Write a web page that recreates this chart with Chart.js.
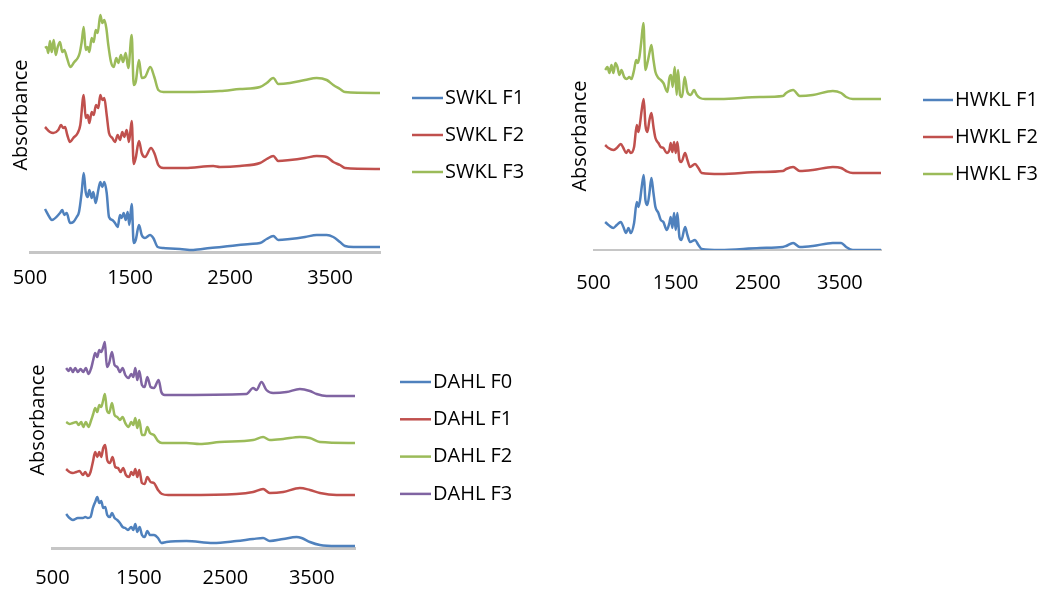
<!DOCTYPE html>
<html>
<head>
<meta charset="utf-8">
<script src="https://cdn.jsdelivr.net/npm/chart.js@4.4.1/dist/chart.umd.min.js"></script>
<style>
  body { margin: 0; width: 1037px; height: 590px; background: #fff; overflow: hidden; position: relative; }
  canvas { position: absolute; }
</style>
</head>
<body>
<canvas id="swkl"></canvas>
<canvas id="hwkl"></canvas>
<canvas id="dahl"></canvas>
<script>
// FTIR spectra, wavenumber (cm-1) vs absorbance (offset per fraction)
const xTicks = [500, 1500, 2500, 3500];

const swklLabels = ["SWKL F1", "SWKL F2", "SWKL F3"];
const hwklLabels = ["HWKL F1", "HWKL F2", "HWKL F3"];
const dahlLabels = ["DAHL F0", "DAHL F1", "DAHL F2", "DAHL F3"];

const swklF1 = [[650,0.43],[700,0.34],[717,0.32],[800,0.39],[823,0.42],[843,0.37],[867,0.39],[900,0.29],[933,0.30],[967,0.35],[990,0.40],[1017,0.60],[1037,0.79],[1057,0.60],[1077,0.55],[1093,0.62],[1117,0.54],[1133,0.60],[1157,0.49],[1183,0.62],[1203,0.70],[1223,0.65],[1243,0.70],[1267,0.59],[1290,0.35],[1323,0.32],[1350,0.29],[1377,0.25],[1400,0.37],[1417,0.34],[1437,0.39],[1457,0.32],[1477,0.40],[1493,0.27],[1517,0.48],[1537,0.09],[1557,0.12],[1590,0.27],[1617,0.17],[1650,0.14],[1700,0.17],[1733,0.14],[1777,0.05],[1833,0.04],[2000,0.03],[2133,0.02],[2300,0.04],[2500,0.06],[2700,0.08],[2800,0.09],[2867,0.13],[2933,0.16],[2983,0.12],[3100,0.13],[3250,0.15],[3367,0.17],[3467,0.17],[3533,0.15],[3600,0.10],[3650,0.06],[3733,0.05],[4000,0.05]];
const swklF2 = [[650,1.25],[700,1.20],[733,1.19],[783,1.22],[810,1.27],[833,1.24],[850,1.25],[873,1.17],[900,1.10],[933,1.14],[977,1.19],[1003,1.27],[1037,1.57],[1057,1.34],[1077,1.37],[1093,1.29],[1117,1.40],[1137,1.37],[1160,1.47],[1183,1.44],[1203,1.57],[1223,1.52],[1243,1.54],[1267,1.37],[1290,1.19],[1323,1.14],[1350,1.10],[1377,1.17],[1400,1.12],[1423,1.20],[1443,1.15],[1467,1.22],[1490,1.10],[1517,1.31],[1537,0.88],[1557,0.94],[1590,1.11],[1617,0.99],[1650,0.95],[1710,1.04],[1743,0.99],[1783,0.87],[1833,0.84],[2050,0.84],[2333,0.86],[2400,0.85],[2600,0.86],[2800,0.89],[2867,0.93],[2933,0.96],[2983,0.91],[3100,0.92],[3250,0.94],[3367,0.96],[3467,0.95],[3533,0.90],[3600,0.87],[3650,0.84],[4000,0.83]];
const swklF3 = [[650,2.04],[667,2.05],[683,1.99],[700,2.11],[717,2.00],[737,2.12],[757,1.97],[777,2.05],[800,2.10],[823,2.00],[843,2.02],[870,1.94],[903,1.85],[943,1.90],[977,1.94],[997,1.99],[1017,2.10],[1037,2.25],[1057,2.02],[1077,2.05],[1093,2.00],[1117,2.14],[1137,2.10],[1157,2.22],[1177,2.19],[1203,2.37],[1223,2.29],[1243,2.32],[1263,2.24],[1283,2.07],[1310,1.90],[1337,1.85],[1363,1.94],[1383,1.89],[1410,1.97],[1430,1.90],[1457,1.99],[1483,1.84],[1517,2.17],[1537,1.67],[1557,1.70],[1590,1.92],[1617,1.74],[1650,1.75],[1703,1.85],[1743,1.75],[1783,1.62],[1833,1.60],[2050,1.60],[2400,1.61],[2600,1.63],[2800,1.65],[2867,1.69],[2933,1.74],[2983,1.68],[3100,1.69],[3250,1.72],[3367,1.74],[3467,1.72],[3533,1.67],[3600,1.63],[3650,1.60],[4000,1.59]];

const hwklF1 = [[642,0.28],[683,0.25],[742,0.22],[783,0.25],[832,0.28],[864,0.23],[897,0.17],[925,0.22],[954,0.17],[994,0.27],[1027,0.48],[1047,0.43],[1067,0.50],[1087,0.63],[1112,0.75],[1132,0.50],[1156,0.45],[1181,0.57],[1205,0.72],[1230,0.57],[1254,0.43],[1290,0.37],[1319,0.30],[1351,0.28],[1392,0.20],[1424,0.27],[1440,0.33],[1460,0.22],[1481,0.37],[1501,0.20],[1521,0.37],[1546,0.13],[1570,0.10],[1615,0.23],[1643,0.15],[1675,0.08],[1736,0.10],[1777,0.05],[1817,0.01],[2040,0.00],[2525,0.02],[2805,0.03],[2845,0.04],[2930,0.07],[3011,0.03],[3170,0.04],[3413,0.07],[3515,0.07],[3576,0.03],[3657,0.00],[4000,0.00]];
const hwklF2 = [[642,1.05],[683,1.02],[742,1.00],[783,1.02],[832,1.06],[864,1.02],[897,0.97],[925,1.00],[954,0.97],[994,1.03],[1027,1.25],[1047,1.18],[1067,1.27],[1087,1.40],[1112,1.51],[1132,1.25],[1156,1.18],[1181,1.30],[1205,1.37],[1230,1.23],[1254,1.12],[1290,1.07],[1319,1.03],[1351,1.02],[1392,0.97],[1424,1.00],[1440,1.07],[1460,0.98],[1481,1.08],[1501,0.97],[1521,1.08],[1546,0.90],[1570,0.88],[1615,0.97],[1643,0.90],[1675,0.83],[1736,0.86],[1777,0.82],[1817,0.77],[2040,0.76],[2525,0.78],[2805,0.79],[2845,0.81],[2930,0.83],[3011,0.79],[3170,0.80],[3413,0.83],[3515,0.82],[3576,0.79],[3657,0.77],[4000,0.77]];
const hwklF3 = [[642,1.80],[670,1.83],[694,1.77],[719,1.85],[742,1.77],[767,1.87],[791,1.83],[816,1.75],[840,1.80],[873,1.73],[905,1.71],[937,1.73],[962,1.71],[994,1.80],[1019,1.90],[1039,1.87],[1059,1.93],[1080,2.07],[1108,2.27],[1132,1.80],[1156,1.87],[1181,1.97],[1205,2.05],[1230,1.90],[1254,1.78],[1290,1.72],[1319,1.70],[1351,1.67],[1400,1.58],[1424,1.72],[1444,1.75],[1464,1.63],[1489,1.83],[1513,1.55],[1529,1.80],[1554,1.55],[1578,1.53],[1610,1.73],[1643,1.58],[1684,1.55],[1724,1.60],[1757,1.55],[1797,1.52],[1858,1.51],[2040,1.51],[2525,1.53],[2805,1.54],[2845,1.57],[2930,1.60],[3011,1.54],[3170,1.55],[3413,1.59],[3515,1.57],[3576,1.53],[3657,1.51],[4000,1.51]];

const dahlF0 = [[658,0.34],[697,0.30],[736,0.28],[793,0.30],[852,0.30],[879,0.31],[909,0.30],[940,0.31],[967,0.40],[994,0.46],[1018,0.51],[1041,0.45],[1064,0.47],[1087,0.40],[1110,0.41],[1133,0.33],[1164,0.31],[1188,0.35],[1218,0.30],[1249,0.28],[1280,0.25],[1311,0.21],[1342,0.20],[1373,0.18],[1411,0.21],[1435,0.18],[1458,0.24],[1481,0.16],[1508,0.21],[1535,0.13],[1566,0.11],[1597,0.17],[1628,0.13],[1674,0.13],[1721,0.10],[1759,0.05],[1817,0.06],[2049,0.07],[2358,0.05],[2628,0.07],[2821,0.09],[2937,0.10],[3014,0.07],[3169,0.09],[3324,0.11],[3382,0.10],[3478,0.06],[3594,0.03],[3787,0.02],[4000,0.02]];
const dahlF1 = [[658,0.79],[697,0.76],[736,0.75],[775,0.76],[813,0.77],[852,0.73],[879,0.76],[909,0.72],[940,0.76],[967,0.86],[994,0.96],[1018,0.91],[1041,0.96],[1064,0.91],[1087,1.00],[1110,1.03],[1133,0.88],[1164,0.85],[1195,0.91],[1226,0.81],[1257,0.80],[1288,0.76],[1318,0.80],[1349,0.73],[1388,0.71],[1411,0.76],[1435,0.73],[1458,0.79],[1481,0.71],[1504,0.78],[1535,0.65],[1566,0.64],[1597,0.71],[1635,0.66],[1674,0.65],[1721,0.58],[1767,0.54],[1837,0.53],[2030,0.53],[2628,0.54],[2821,0.56],[2937,0.59],[3014,0.55],[3169,0.56],[3362,0.60],[3478,0.58],[3594,0.55],[3787,0.53],[4000,0.53]];
const dahlF2 = [[658,1.26],[697,1.24],[736,1.25],[775,1.26],[802,1.23],[833,1.26],[856,1.21],[886,1.26],[917,1.21],[948,1.28],[971,1.34],[994,1.40],[1018,1.36],[1041,1.43],[1064,1.41],[1087,1.48],[1106,1.54],[1129,1.38],[1156,1.35],[1188,1.45],[1218,1.33],[1249,1.31],[1280,1.28],[1311,1.31],[1342,1.25],[1380,1.21],[1411,1.26],[1435,1.23],[1458,1.30],[1481,1.20],[1504,1.28],[1535,1.13],[1566,1.13],[1597,1.21],[1628,1.15],[1674,1.13],[1721,1.07],[1767,1.05],[1837,1.05],[2049,1.05],[2203,1.04],[2435,1.06],[2821,1.08],[2937,1.11],[3014,1.08],[3169,1.09],[3362,1.11],[3478,1.10],[3594,1.06],[4000,1.05]];
const dahlF3 = [[658,1.80],[685,1.77],[708,1.80],[736,1.76],[763,1.80],[793,1.76],[825,1.79],[856,1.76],[886,1.80],[917,1.74],[948,1.80],[971,1.88],[994,1.95],[1018,1.91],[1041,1.98],[1064,1.96],[1087,2.01],[1106,2.06],[1129,1.81],[1156,1.85],[1188,1.96],[1218,1.83],[1249,1.81],[1280,1.76],[1311,1.80],[1342,1.73],[1380,1.70],[1411,1.74],[1435,1.71],[1458,1.80],[1481,1.68],[1504,1.77],[1535,1.63],[1566,1.61],[1597,1.71],[1635,1.61],[1674,1.60],[1728,1.68],[1759,1.56],[1798,1.53],[1856,1.53],[2744,1.54],[2821,1.60],[2860,1.58],[2918,1.66],[2975,1.58],[3053,1.55],[3208,1.56],[3362,1.59],[3478,1.57],[3556,1.54],[3671,1.52],[4000,1.52]];

const seriesColors = ["#4F81BD", "#C0504D", "#9BBB59", "#8064A2"];

Chart.defaults.font.family = "'Open Sans', sans-serif";
Chart.defaults.font.size = 20;
Chart.defaults.color = "#000";

// legend drawn beside the plot: short line + label per dataset
const sideLegend = {
    id: "sideLegend",
    afterDraw(chart, args, opts) {
        const ctx = chart.ctx;
        ctx.save();
        ctx.font = "20px 'Open Sans', sans-serif";
        ctx.textBaseline = "middle";
        chart.data.datasets.forEach((ds, i) => {
            const y = opts.y + i * opts.gap;
            ctx.strokeStyle = ds.borderColor;
            ctx.lineWidth = ds.borderWidth;
            ctx.beginPath();
            ctx.moveTo(opts.x, y);
            ctx.lineTo(opts.x + opts.lineLength, y);
            ctx.stroke();
            ctx.fillStyle = "#000";
            ctx.fillText(ds.label, opts.x + opts.lineLength + opts.textGap, y);
        });
        ctx.restore();
    }
};

function makeSpectra(id, p, labels, series) {
    const canvas = document.getElementById(id);
    canvas.width = p.width;
    canvas.height = p.height;
    canvas.style.left = p.left + "px";
    canvas.style.top = p.top + "px";

    const datasets = series.map((pts, i) => ({
        label: labels[i],
        data: pts.map(([x, y]) => ({ x, y })),
        borderColor: seriesColors[i],
        backgroundColor: seriesColors[i],
        borderWidth: 2.5,
        pointRadius: 0,
        cubicInterpolationMode: "monotone",
        fill: false
    }));

    return new Chart(canvas.getContext("2d"), {
        type: "line",
        data: { datasets },
        options: {
            responsive: false,
            animation: false,
            events: [],
            layout: { padding: { left: 0, top: 0, bottom: 0, right: p.width - p.yAxisWidth - p.plotWidth } },
            plugins: {
                legend: { display: false },
                tooltip: { enabled: false },
                sideLegend: p.legend
            },
            scales: {
                x: {
                    type: "linear",
                    min: 500,
                    max: 4000,
                    grid: { display: false, drawTicks: false },
                    border: { display: true, color: "#c6c6c6", width: p.axisWidth },
                    ticks: { padding: p.tickPad, maxRotation: 0, callback: v => String(v) },
                    afterBuildTicks: axis => { axis.ticks = xTicks.map(v => ({ value: v })); },
                    // fixed axis height; labels may hang past the plot edges
                    afterFit: axis => {
                        axis.height = 40;
                        axis.paddingLeft = 0;
                        axis.paddingRight = 0;
                    }
                },
                y: {
                    min: 0,
                    max: p.yMax,
                    grid: { display: false, drawTicks: false },
                    border: { display: false },
                    ticks: { display: false },
                    title: { display: true, text: "Absorbance", padding: 0 },
                    afterFit: axis => { axis.width = p.yAxisWidth; }
                }
            }
        },
        plugins: [sideLegend]
    });
}

makeSpectra("swkl", {
    left: 9, top: -22, width: 540, height: 314, yAxisWidth: 21, plotWidth: 350,
    yMax: 2.74, tickPad: 14.5, axisWidth: 3,
    legend: { x: 403, y: 120, gap: 37, lineLength: 31, textGap: 2 }
}, swklLabels, [swklF1, swklF2, swklF3]);

makeSpectra("hwkl", {
    left: 568, top: 22, width: 469, height: 268, yAxisWidth: 25.5, plotWidth: 287.5,
    yMax: 2.28, tickPad: 21, axisWidth: 2,
    legend: { x: 355, y: 78, gap: 37, lineLength: 30, textGap: 2 }
}, hwklLabels, [hwklF1, hwklF2, hwklF3]);

makeSpectra("dahl", {
    left: 26, top: 292, width: 520, height: 296, yAxisWidth: 26.5, plotWidth: 302.5,
    yMax: 2.56, tickPad: 18, axisWidth: 3,
    legend: { x: 374, y: 90, gap: 37.3, lineLength: 31, textGap: 2 }
}, dahlLabels, [dahlF0, dahlF1, dahlF2, dahlF3]);
</script>
</body>
</html>
